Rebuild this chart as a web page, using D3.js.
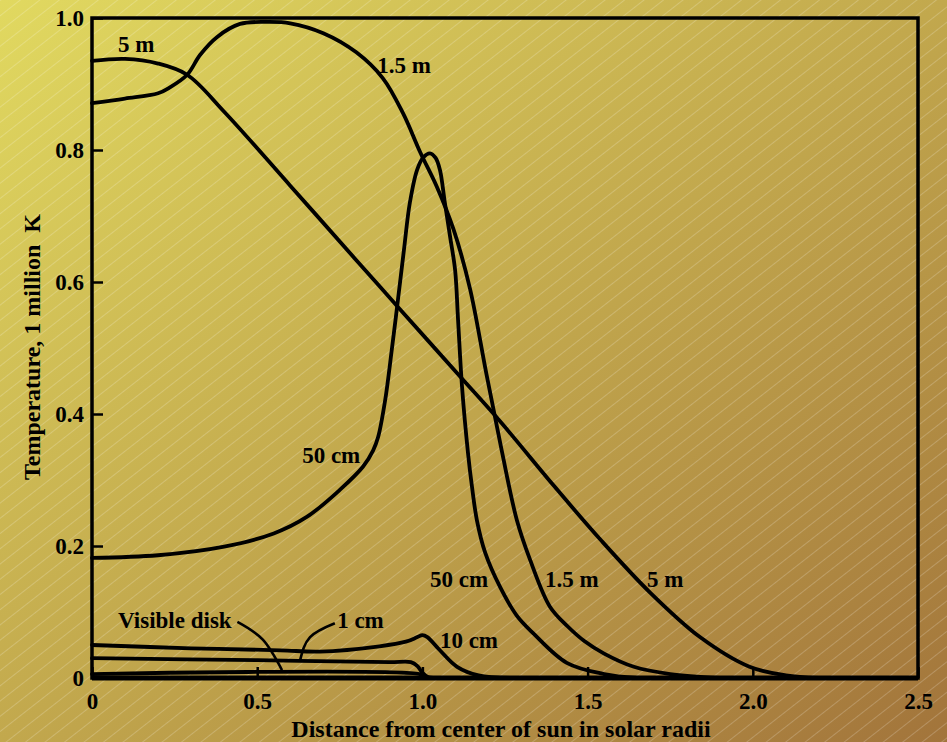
<!DOCTYPE html>
<html>
<head>
<meta charset="utf-8">
<script src="https://cdn.jsdelivr.net/npm/d3@7"></script>
<style>
  html, body { margin: 0; padding: 0; background: #c4ab4e; }
  svg { display: block; }
  text { font-family: "Liberation Serif", "DejaVu Serif", serif; font-weight: bold; fill: #000; }
</style>
</head>
<body>
<svg id="chart" width="947" height="742"></svg>
<script>
// ── Data ──
// radius in solar radii, temperature in million K
const r5m   = [0, 0.1, 0.2, 0.288, 0.4, 0.6, 0.8, 0.93, 1.11, 1.235, 1.4, 1.54, 1.69, 1.84, 1.99, 2.1, 2.2];
const t5m   = [0.935, 0.938, 0.931, 0.914, 0.858, 0.746, 0.633, 0.56, 0.459, 0.389, 0.29, 0.209, 0.129, 0.062, 0.017, 0.004, 0];

const r15m  = [0, 0.1, 0.2, 0.236, 0.288, 0.327, 0.378, 0.448, 0.53, 0.6, 0.7, 0.8, 0.88, 0.942, 0.993, 1.044, 1.094, 1.144, 1.194, 1.24, 1.286, 1.326, 1.386, 1.44, 1.49, 1.55, 1.64, 1.75, 1.9];
const t15m  = [0.871, 0.878, 0.886, 0.895, 0.914, 0.944, 0.971, 0.991, 0.994, 0.992, 0.977, 0.948, 0.909, 0.855, 0.797, 0.744, 0.68, 0.59, 0.46, 0.345, 0.239, 0.179, 0.108, 0.078, 0.056, 0.037, 0.017, 0.006, 0];

const r50cm = [0, 0.2, 0.4, 0.55, 0.65, 0.75, 0.82, 0.851, 0.866, 0.887, 0.908, 0.926, 0.944, 0.962, 0.984, 1.003, 1.023, 1.04, 1.053, 1.068, 1.084, 1.099, 1.108, 1.12, 1.138, 1.15, 1.165, 1.19, 1.235, 1.285, 1.335, 1.437, 1.55, 1.65];
const t50cm = [0.182, 0.186, 0.199, 0.219, 0.244, 0.285, 0.32, 0.345, 0.365, 0.42, 0.5, 0.573, 0.648, 0.72, 0.77, 0.789, 0.795, 0.788, 0.77, 0.72, 0.668, 0.618, 0.542, 0.441, 0.341, 0.29, 0.239, 0.19, 0.138, 0.095, 0.068, 0.023, 0.006, 0];

const r10cm = [0, 0.3, 0.57, 0.69, 0.87, 0.95, 0.985, 1.0, 1.015, 1.053, 1.105, 1.17, 1.27];
const t10cm = [0.05, 0.045, 0.042, 0.04, 0.048, 0.055, 0.062, 0.065, 0.062, 0.042, 0.017, 0.004, 0];

const r1cm  = [0, 0.5, 0.9, 0.965, 0.985, 1.0, 1.015, 1.04];
const t1cm  = [0.03, 0.027, 0.024, 0.024, 0.018, 0.008, 0.002, 0];

const rDisk = [0, 0.99, 1.0, 1.01];
const tDisk = [0.006, 0.006, 0.003, 0];

const xTicks = [0, 0.5, 1.0, 1.5, 2.0, 2.5];
const yTicks = [0, 0.2, 0.4, 0.6, 0.8, 1.0];

// curve labels: text, radius, temperature (baseline-left of the text)
const labelText = ['5 m', '1.5 m', '50 cm', '50 cm', '1.5 m', '5 m', '10 cm', '1 cm', 'Visible disk'];
const labelR    = [0.079, 0.863, 0.636, 1.023, 1.371, 1.68, 1.053, 0.742, 0.079];
const labelT    = [0.948, 0.917, 0.326, 0.138, 0.138, 0.138, 0.045, 0.076, 0.076];

// leader lines from labels to the curves
const leaderDisk = [[0.44, 0.085], [0.517, 0.058], [0.575, 0.012]];
const leader1cm  = [[0.735, 0.083], [0.66, 0.062], [0.63, 0.027]];

// ── Layout ──
const W = 947, H = 742;
const M = { left: 92, right: 29, top: 18, bottom: 64 };

const svg = d3.select('#chart');
const x = d3.scaleLinear().domain([0, 2.5]).range([M.left, W - M.right]);
const y = d3.scaleLinear().domain([0, 1]).range([H - M.bottom, M.top]);

// background: yellow to brown, with faint diagonal streaks
const defs = svg.append('defs');
const grad = defs.append('linearGradient').attr('id', 'bg')
  .attr('x1', 0).attr('y1', 0).attr('x2', 1).attr('y2', 1);
grad.append('stop').attr('offset', '0%').attr('stop-color', '#e1d960');
grad.append('stop').attr('offset', '50%').attr('stop-color', '#c2a84d');
grad.append('stop').attr('offset', '100%').attr('stop-color', '#a2743b');

const hatch = defs.append('pattern').attr('id', 'hatch')
  .attr('width', 12).attr('height', 12)
  .attr('patternUnits', 'userSpaceOnUse')
  .attr('patternTransform', 'rotate(-38)');
hatch.append('line')
  .attr('x1', 0).attr('y1', 0.5).attr('x2', 12).attr('y2', 0.5)
  .attr('stroke', '#fff').attr('stroke-opacity', 0.25).attr('stroke-width', 0.8);

svg.append('rect').attr('width', W).attr('height', H).attr('fill', 'url(#bg)');
svg.append('rect').attr('width', W).attr('height', H).attr('fill', 'url(#hatch)');

// ── Axes (ticks point inward) ──
const xAxis = d3.axisBottom(x).tickValues(xTicks)
  .tickFormat(d => d === 0 ? '0' : d3.format('.1f')(d))
  .tickSizeInner(-11).tickSizeOuter(0).tickPadding(15);
const yAxis = d3.axisLeft(y).tickValues(yTicks)
  .tickFormat(d => d === 0 ? '0' : d3.format('.1f')(d))
  .tickSizeInner(-11).tickSizeOuter(0).tickPadding(8);

const gx = svg.append('g').attr('transform', `translate(0,${y(0)})`).call(xAxis);
const gy = svg.append('g').attr('transform', `translate(${x(0)},0)`).call(yAxis);

[gx, gy].forEach(g => {
  g.selectAll('.domain').remove();
  g.selectAll('.tick line').attr('stroke', '#000').attr('stroke-width', 2.5);
  g.selectAll('.tick text').attr('font-size', 23).attr('fill', '#000')
    .style('font-family', '"Liberation Serif", serif').style('font-weight', 'bold');
});

// frame
svg.append('rect')
  .attr('x', x(0)).attr('y', y(1))
  .attr('width', x(2.5) - x(0)).attr('height', y(0) - y(1))
  .attr('fill', 'none').attr('stroke', '#000').attr('stroke-width', 3.5);
svg.append('line')
  .attr('x1', x(0)).attr('x2', x(2.5)).attr('y1', y(0)).attr('y2', y(0))
  .attr('stroke', '#000').attr('stroke-width', 5);

// ── Curves ──
const line = d3.line()
  .x(d => x(d[0])).y(d => y(d[1]))
  .curve(d3.curveCatmullRom.alpha(0.5));

const series = [
  [r5m, t5m], [r15m, t15m], [r50cm, t50cm],
  [r10cm, t10cm], [r1cm, t1cm], [rDisk, tDisk]
];

svg.append('g').selectAll('path')
  .data(series.map(([rs, ts]) => rs.map((r, i) => [r, ts[i]])))
  .join('path')
  .attr('d', line)
  .attr('fill', 'none')
  .attr('stroke', '#000')
  .attr('stroke-width', 3.8)
  .attr('stroke-linejoin', 'round')
  .attr('stroke-linecap', 'round');

// leaders
const leader = d3.line().x(d => x(d[0])).y(d => y(d[1])).curve(d3.curveNatural);
svg.append('g').selectAll('path')
  .data([leaderDisk, leader1cm])
  .join('path')
  .attr('d', leader)
  .attr('fill', 'none')
  .attr('stroke', '#000')
  .attr('stroke-width', 2.6);

// ── Labels ──
svg.append('g').selectAll('text')
  .data(labelText)
  .join('text')
  .attr('x', (d, i) => x(labelR[i]))
  .attr('y', (d, i) => y(labelT[i]))
  .attr('font-size', 23)
  .text(d => d);

// axis titles
svg.append('text')
  .attr('x', 501).attr('y', 737)
  .attr('text-anchor', 'middle')
  .attr('font-size', 24)
  .text('Distance from center of sun in solar radii');

svg.append('text')
  .attr('transform', 'translate(40,347) rotate(-90)')
  .attr('text-anchor', 'middle')
  .attr('font-size', 24)
  .style('white-space', 'pre')
  .text('Temperature, 1 million  K');
</script>
</body>
</html>
